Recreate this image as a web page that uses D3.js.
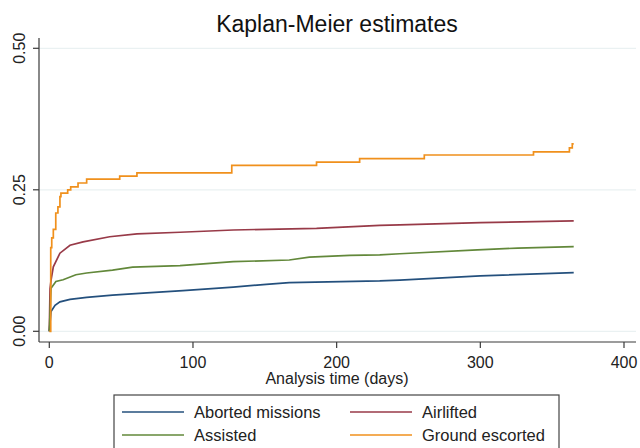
<!DOCTYPE html>
<html>
<head>
<meta charset="utf-8">
<script src="https://cdn.jsdelivr.net/npm/d3@7"></script>
<style>
    body { margin: 0; background: #fff; }
    svg { display: block; font-family: 'Liberation Sans', Arial, sans-serif; }
    .grid-line { stroke: #eaf1f2; stroke-width: 1.2; }
    .axis-line { stroke: #3a3a3a; stroke-width: 1.2; }
    .km-line { fill: none; stroke-width: 1.7; }
</style>
</head>
<body>
<svg></svg>
<script>
'use strict';

// Kaplan-Meier 曲线, [天数, 估计值]
var abortedMissions = [
    [0, 0], [1.2, 0.035], [4, 0.046], [7.4, 0.052], [14.4, 0.0565], [26, 0.060],
    [44, 0.064], [68, 0.068], [93, 0.072], [128, 0.078], [151, 0.083],
    [167, 0.086], [230, 0.089], [244, 0.0905], [300, 0.098], [365, 0.1035]
];
var airlifted = [
    [0, 0], [0.5, 0.075], [1.2, 0.090], [2.8, 0.114], [7.4, 0.138], [14.4, 0.152],
    [23.5, 0.158], [42, 0.167], [61, 0.172], [91, 0.175], [128, 0.179], [186, 0.182],
    [230, 0.187], [244, 0.188], [300, 0.192], [365, 0.195]
];
var assisted = [
    [0, 0], [1.2, 0.076], [4.6, 0.088], [9.6, 0.091], [18.5, 0.100], [26, 0.103],
    [44, 0.108], [58, 0.1135], [91, 0.116], [128, 0.123], [167, 0.126], [181, 0.131],
    [209, 0.134], [230, 0.135], [244, 0.137], [298, 0.144], [326, 0.147], [365, 0.1495]
];
var groundEscorted = [
    [0, 0], [1, 0.148], [1.7, 0.165], [2.8, 0.180], [4.5, 0.209], [6, 0.220],
    [7.4, 0.238], [8.1, 0.244], [12.8, 0.250], [14.9, 0.255], [20, 0.262], [26, 0.269],
    [49, 0.274], [61, 0.280], [127, 0.293], [186, 0.299], [216, 0.305], [261, 0.3115],
    [337, 0.317], [362, 0.324], [364, 0.331], [365, 0.331]
];

var seriesNames = ['Aborted missions', 'Airlifted', 'Assisted', 'Ground escorted'];
var xTicks = [0, 100, 200, 300, 400];
var yTicks = [0, 0.25, 0.5];

var width = 640;
var height = 448;

var svg = d3.select('svg')
    .attr('width', width)
    .attr('height', height);

// 比例尺
var x = d3.scaleLinear().domain([0, 400]).range([49.3, 624]);
var y = d3.scaleLinear().domain([0, 0.5]).range([331.3, 48.3]);

var plotLeft = 39;
var plotRight = 636;
var plotTop = 38;
var plotBottom = 342;

var colors = d3.scaleOrdinal()
    .domain(seriesNames)
    .range(['#24507d', '#983a48', '#62883a', '#f0901c']);

// 横向网格线
svg.append('g')
    .selectAll('line')
    .data(yTicks)
    .enter()
        .append('line')
        .attr('class', 'grid-line')
        .attr('x1', plotLeft)
        .attr('x2', plotRight)
        .attr('y1', function (d) { return y(d); })
        .attr('y2', function (d) { return y(d); });

// 标题
svg.append('text')
    .text('Kaplan-Meier estimates')
    .attr('x', 337)
    .attr('y', 32)
    .attr('text-anchor', 'middle')
    .attr('font-size', 23)
    .attr('fill', '#111');

// y 轴
svg.append('line').attr('class', 'axis-line')
    .attr('x1', plotLeft).attr('x2', plotLeft)
    .attr('y1', plotTop).attr('y2', plotBottom);

svg.append('g')
    .selectAll('line')
    .data(yTicks)
    .enter()
        .append('line')
        .attr('class', 'axis-line')
        .attr('x1', plotLeft - 6)
        .attr('x2', plotLeft)
        .attr('y1', function (d) { return y(d); })
        .attr('y2', function (d) { return y(d); });

svg.append('g')
    .selectAll('text')
    .data(yTicks)
    .enter()
        .append('text')
        .text(function (d) { return d3.format('.2f')(d); })
        .attr('text-anchor', 'middle')
        .attr('font-size', 16)
        .attr('fill', '#222')
        .attr('transform', function (d) { return 'translate(25,' + y(d) + ') rotate(-90)'; });

// x 轴
svg.append('line').attr('class', 'axis-line')
    .attr('x1', plotLeft).attr('x2', plotRight)
    .attr('y1', plotBottom).attr('y2', plotBottom);

svg.append('g')
    .selectAll('line')
    .data(xTicks)
    .enter()
        .append('line')
        .attr('class', 'axis-line')
        .attr('x1', function (d) { return x(d); })
        .attr('x2', function (d) { return x(d); })
        .attr('y1', plotBottom)
        .attr('y2', plotBottom + 6);

svg.append('g')
    .selectAll('text')
    .data(xTicks)
    .enter()
        .append('text')
        .text(function (d) { return d; })
        .attr('x', function (d) { return x(d); })
        .attr('y', 368)
        .attr('text-anchor', 'middle')
        .attr('font-size', 16)
        .attr('fill', '#222');

svg.append('text')
    .text('Analysis time (days)')
    .attr('x', 337)
    .attr('y', 384)
    .attr('text-anchor', 'middle')
    .attr('font-size', 16)
    .attr('fill', '#222');

// 曲线
var stepLine = d3.line()
    .x(function (d) { return x(d[0]); })
    .y(function (d) { return y(d[1]); })
    .curve(d3.curveStepAfter);

var smoothLine = d3.line()
    .x(function (d) { return x(d[0]); })
    .y(function (d) { return y(d[1]); });

var series = [
    { name: 'Aborted missions', values: abortedMissions, line: smoothLine },
    { name: 'Airlifted', values: airlifted, line: smoothLine },
    { name: 'Assisted', values: assisted, line: smoothLine },
    { name: 'Ground escorted', values: groundEscorted, line: stepLine }
];

svg.append('g')
    .selectAll('path')
    .data(series)
    .enter()
        .append('path')
        .attr('class', 'km-line')
        .attr('stroke', function (d) { return colors(d.name); })
        .attr('d', function (d) { return d.line(d.values); });

// 图例
svg.append('rect')
    .attr('x', 114)
    .attr('y', 395)
    .attr('width', 445)
    .attr('height', 60)
    .attr('fill', '#fff')
    .attr('stroke', '#444')
    .attr('stroke-width', 1.2);

var legendCols = [122, 350];
var legendRows = [412, 435];

var legend = svg.append('g')
    .selectAll('g')
    .data(seriesNames)
    .enter()
        .append('g')
        .attr('transform', function (d, i) {
            return 'translate(' + legendCols[i % 2] + ',' + legendRows[Math.floor(i / 2)] + ')';
        });

legend.append('line')
    .attr('x1', 0)
    .attr('x2', 62)
    .attr('stroke', function (d) { return colors(d); })
    .attr('stroke-width', 1.5);

legend.append('text')
    .text(function (d) { return d; })
    .attr('x', 72)
    .attr('y', 6)
    .attr('font-size', 16.5)
    .attr('fill', '#222');
</script>
</body>
</html>
